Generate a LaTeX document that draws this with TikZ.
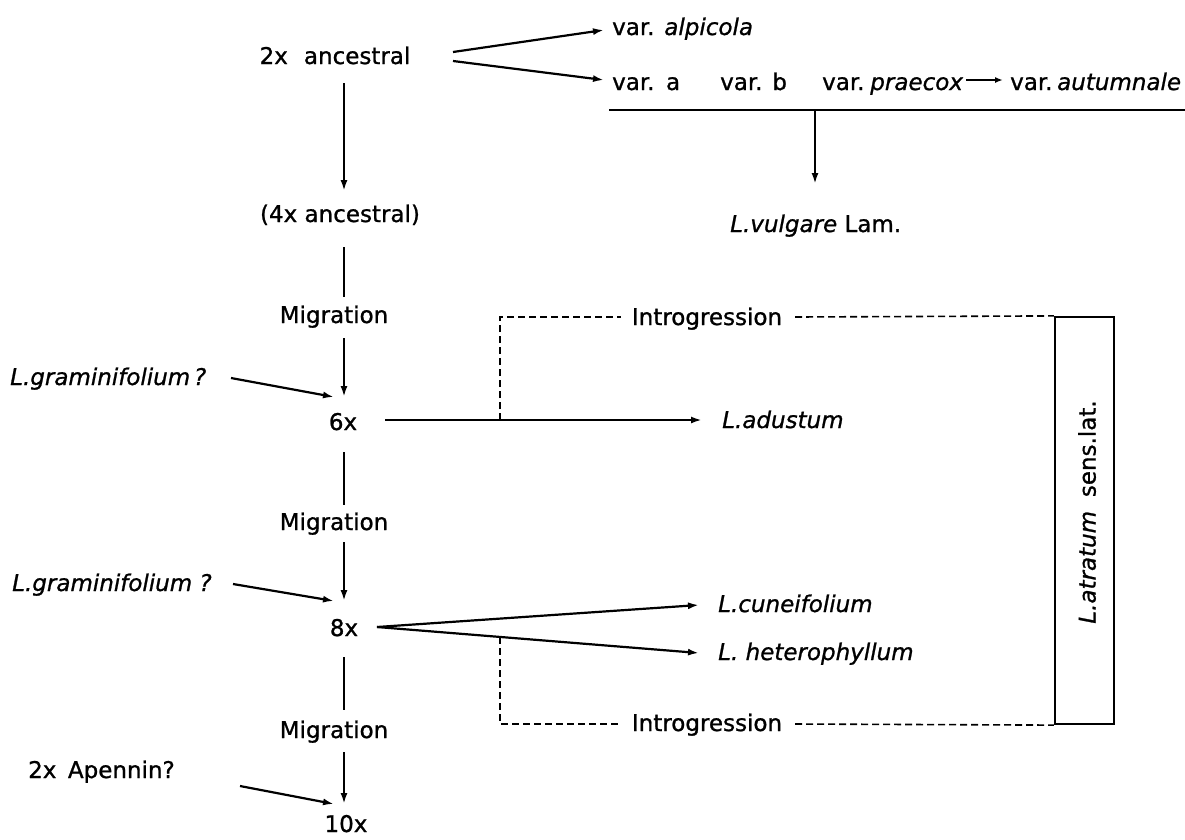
\documentclass[tikz,border=0pt]{standalone}
\usepackage{fontspec}
\setmainfont{DejaVu Sans}[BoldFont={DejaVu Sans},BoldItalicFont={DejaVu Sans Oblique},
  BoldFeatures={FakeBold=1.0},BoldItalicFeatures={FakeBold=1.0}]
\usetikzlibrary{arrows.meta}
\begin{document}
\begin{tikzpicture}[x=1pt,y=-1pt,
  lbl/.style={inner sep=0pt,font=\fontsize{23}{27}\selectfont\bfseries},
  ln/.style={line width=2.2pt},
  arr/.style={line width=2.2pt,-{Latex[length=11pt,width=7pt]}},
  dsh/.style={line width=1.6pt,dash pattern=on 7pt off 4pt}]
\useasboundingbox (0,0) rectangle (1185,839);
\fill[white] (0,0) rectangle (1185,839);

% ---- spine nodes
\node[lbl,anchor=base] (a2)  at (335,64)  {2x\hspace{0.7em}ancestral};
\node[lbl,anchor=base] (a4)  at (340,222) {(4x ancestral)};
\node[lbl,anchor=base] (m1)  at (334,323) {Migration};
\node[lbl,anchor=base] (n6)  at (343,430) {6x};
\node[lbl,anchor=base] (m2)  at (334,530) {Migration};
\node[lbl,anchor=base] (n8)  at (344,636) {8x};
\node[lbl,anchor=base] (m3)  at (334,738) {Migration};
\node[lbl,anchor=base] (n10) at (346,832) {10x};

% ---- left inputs
\node[lbl,anchor=base west] (g1) at (10,385) {\textit{L.graminifolium\,?}};
\node[lbl,anchor=base west] (g2) at (12,591) {\textit{L.graminifolium ?}};
\node[lbl,anchor=base west] (ap) at (28,778) {2x\hspace{0.5em}Apennin?};

% ---- top right
\node[lbl,anchor=base west] (alp) at (612,35) {var. \textit{alpicola}};
\node[lbl,anchor=base west] (va)  at (612,90) {var.\hspace{0.5em}a};
\node[lbl,anchor=base west] (vb)  at (720,90) {var. b};
\node[lbl,anchor=base west] (vp)  at (822,90) {var.\hspace{0.25em}\textit{praecox}};
\node[lbl,anchor=base west] (vau) at (1010,90) {var.\hspace{0.2em}\textit{autumnale}};
\node[lbl,anchor=base west] (vul) at (730,232) {\textit{L.vulgare} Lam.};

% ---- right side
\node[lbl,anchor=base west] (adu) at (722,428) {\textit{L.adustum}};
\node[lbl,anchor=base west] (cun) at (718,612) {\textit{L.cuneifolium}};
\node[lbl,anchor=base west] (het) at (718,660) {\textit{L. heterophyllum}};
\node[lbl,anchor=base] (int1) at (707,325) {Introgression};
\node[lbl,anchor=base] (int2) at (707,731) {Introgression};
\node[draw,line width=2.2pt,minimum width=59pt,minimum height=407pt,inner sep=0pt] (box) at (1084.5,520.5) {};
\node[lbl,rotate=90] (atr) at (1087,512) {\textit{L.atratum}\hspace{0.6em}sens.lat.};

% ---- coordinates for connector ends
\coordinate (a2o1) at (453,52);  \coordinate (alpi) at (604,30);
\coordinate (a2o2) at (453,61);  \coordinate (vai)  at (604,80);
\coordinate (vpo)  at (966,80);  \coordinate (vaui) at (1003,80);
\coordinate (barL) at (609,110); \coordinate (barR) at (1185,110);
\coordinate (barM) at (815,110); \coordinate (vuli) at (815,184);
\coordinate (s1a) at (344,83);   \coordinate (s1b) at (344,191);
\coordinate (s2a) at (344,247);  \coordinate (s2b) at (344,297);
\coordinate (s3a) at (344,338);  \coordinate (s3b) at (344,397);
\coordinate (s4a) at (344,452);  \coordinate (s4b) at (344,505);
\coordinate (s5a) at (344,542);  \coordinate (s5b) at (344,601);
\coordinate (s6a) at (344,657);  \coordinate (s6b) at (344,710);
\coordinate (s7a) at (344,752);  \coordinate (s7b) at (344,804);
\coordinate (g1o) at (231,378);  \coordinate (g1i) at (334,397);
\coordinate (g2o) at (233,584);  \coordinate (g2i) at (334,601);
\coordinate (apo) at (240,786);  \coordinate (api) at (334,804);
\coordinate (n6o) at (385,420);  \coordinate (adui) at (702,420);
\coordinate (n8o) at (377,627);  \coordinate (cuni) at (699,605);
\coordinate (heti) at (699,653);
\coordinate (j1) at (500,420);   \coordinate (j1t) at (500,317);
\coordinate (i1l) at (621,317);  \coordinate (i1r) at (795,317);
\coordinate (j2) at (500,637);   \coordinate (j2b) at (500,724);
\coordinate (i2l) at (621,724);  \coordinate (i2r) at (795,724);

% ---- connectors
\draw[arr] (a2o1) -- (alpi);
\draw[arr] (a2o2) -- (vai);
\draw[arr,-{Latex[length=8pt,width=6pt]}] (vpo) -- (vaui);
\draw[ln] (barL) -- (barR);
\draw[arr] (barM) -- (vuli);

\draw[arr] (s1a) -- (s1b);
\draw[ln]  (s2a) -- (s2b);
\draw[arr] (s3a) -- (s3b);
\draw[ln]  (s4a) -- (s4b);
\draw[arr] (s5a) -- (s5b);
\draw[ln]  (s6a) -- (s6b);
\draw[arr] (s7a) -- (s7b);

\draw[arr] (g1o) -- (g1i);
\draw[arr] (g2o) -- (g2i);
\draw[arr] (apo) -- (api);

\draw[arr] (n6o) -- (adui);
\draw[arr] (n8o) -- (cuni);
\draw[arr] (n8o) -- (heti);

\draw[dsh] (j1) -- (j1t) -- (i1l);
\draw[dsh] (i1r) -- (box.north west);
\draw[dsh] (j2) -- (j2b) -- (i2l);
\draw[dsh] (i2r) -- (box.south west);
\end{tikzpicture}
\end{document}
